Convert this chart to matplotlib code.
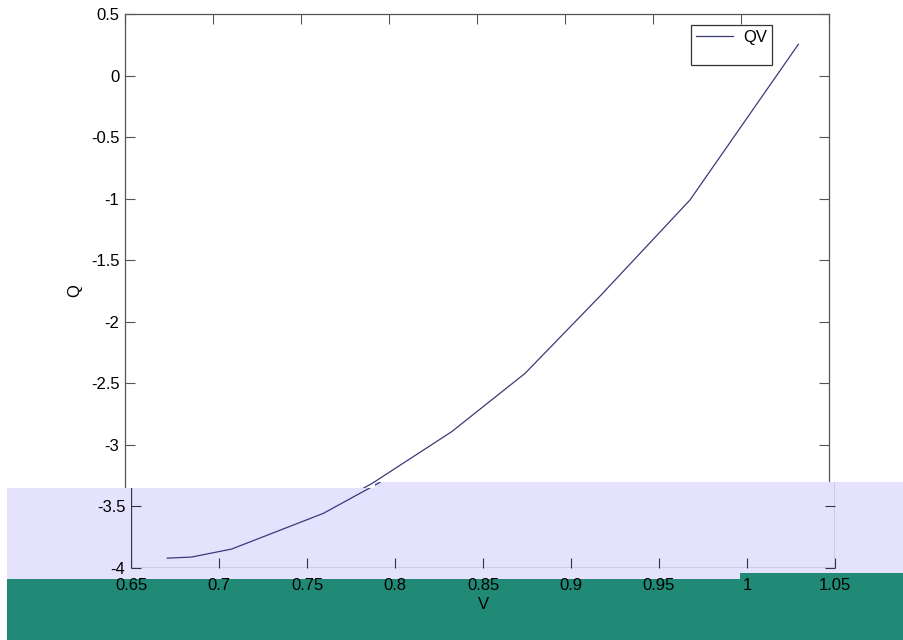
import matplotlib
matplotlib.use('Agg')
import matplotlib.pyplot as plt
from matplotlib.patches import Polygon
from matplotlib.lines import Line2D

plt.rcParams['font.family'] = ['Liberation Sans', 'DejaVu Sans']
plt.rcParams['axes.unicode_minus'] = False

# ---- data ----
V = [0.6706, 0.6845, 0.7072, 0.7593, 0.7905, 0.8356, 0.8773, 0.9200, 0.9710, 1.0326]
Q = [-3.920, -3.911, -3.846, -3.556, -3.312, -2.893, -2.419, -1.790, -1.011, 0.254]
series_label = 'QV'
x_ticks = [0.65, 0.7, 0.75, 0.8, 0.85, 0.9, 0.95, 1.0, 1.05]
x_tick_labels = ['0.65', '0.7', '0.75', '0.8', '0.85', '0.9', '0.95', '1', '1.05']
y_ticks = [0.5, 0, -0.5, -1, -1.5, -2, -2.5, -3, -3.5, -4]
y_tick_labels = ['0.5', '0', '-0.5', '-1', '-1.5', '-2', '-2.5', '-3', '-3.5', '-4']
x_label = 'V'
y_label = 'Q'

W, H = 904, 640
fig = plt.figure(figsize=(W / 100, H / 100), dpi=100)
fig.patch.set_facecolor('white')


def fx(x):
    return x / W


def fy(y):
    return 1 - y / H


line_color = '#3a3a78'
spine_A = '#555555'
spine_B = '#33334d'
FS = 12

# ---- main axes (upper, unshifted part) ----
axA = fig.add_axes([fx(125), fy(568), 704 / W, 554 / H], zorder=0)
axA.plot(V, Q, color=line_color, lw=0.9, label=series_label)
axA.set_xlim(0.65, 1.05)
axA.set_ylim(-4, 0.5)
axA.set_xticks(x_ticks)
axA.set_yticks(y_ticks)
axA.set_yticklabels([t if t not in ('-3.5', '-4') else '' for t in y_tick_labels])
axA.tick_params(direction='in', top=True, right=True, length=7, width=0.8,
                labelsize=FS, labelbottom=False, color=spine_A, pad=4)
for sp in axA.spines.values():
    sp.set_color(spine_A)
    sp.set_linewidth(0.9)
axA.set_ylabel(y_label, fontsize=FS, labelpad=6)

handles = [Line2D([], [], color=line_color, lw=0.9),
           Line2D([], [], color='none')]
leg = axA.legend(handles, [series_label, ' '], loc='upper left',
                 bbox_to_anchor=(fx(691.5), fy(25)), bbox_transform=fig.transFigure,
                 fancybox=False, framealpha=1, edgecolor='#333333', fontsize=FS,
                 borderpad=0.3, labelspacing=0.0, handlelength=2.2,
                 handletextpad=0.6, borderaxespad=0)
leg.get_frame().set_linewidth(0.9)

# ---- overlay bands ----
lav_pts = [(7, 488), (375, 488), (375, 482), (904, 482), (904, 579), (7, 579)]
lav = Polygon([(fx(x), fy(y)) for x, y in lav_pts], closed=True,
              transform=fig.transFigure, facecolor='#E4E2FC', edgecolor='none', zorder=1)
fig.add_artist(lav)

teal_pts = [(7, 579), (740, 579), (740, 573), (904, 573), (904, 640), (7, 640)]
teal = Polygon([(fx(x), fy(y)) for x, y in teal_pts], closed=True,
               transform=fig.transFigure, facecolor='#218A76', edgecolor='none', zorder=1.5)
fig.add_artist(teal)

# ---- shifted lower copy of the axes ----
axB = fig.add_axes([fx(131), fy(568), 704 / W, 554 / H], zorder=2)
axB.patch.set_visible(False)
lineB, = axB.plot(V, Q, color=line_color, lw=0.9)
lineB.set_clip_path(lav)
axB.set_xlim(0.65, 1.05)
axB.set_ylim(-4, 0.5)
axB.set_xticks(x_ticks)
axB.set_xticklabels(x_tick_labels)
axB.set_yticks([-3.5, -4])
axB.set_yticklabels(['-3.5', '-4'])
axB.tick_params(direction='in', top=False, right=True, length=7, width=0.8,
                labelsize=FS, color=spine_B)
axB.tick_params(axis='x', pad=7)
axB.tick_params(axis='y', pad=4)
axB.spines['top'].set_visible(False)
for name in ('left', 'right', 'bottom'):
    axB.spines[name].set_color(spine_B)
    axB.spines[name].set_linewidth(0.9)
    axB.spines[name].set_clip_path(lav)
axB.set_xlabel(x_label, fontsize=FS, labelpad=3)

fig.savefig('out.png', dpi=100)
